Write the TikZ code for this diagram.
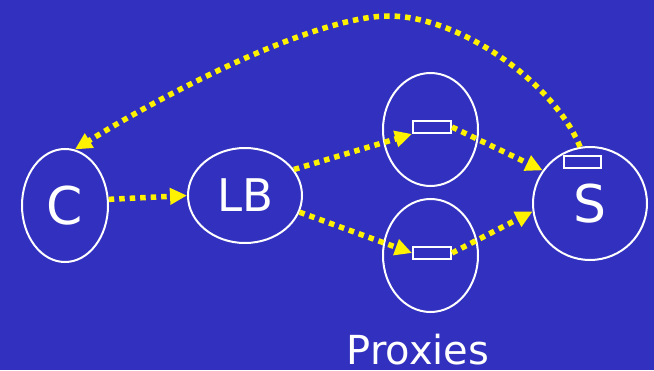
\documentclass[tikz,border=0pt]{standalone}
\usepackage{fontspec}
\setmainfont{DejaVu Sans}
\usetikzlibrary{arrows.meta,positioning,shapes.geometric}
\definecolor{slide}{RGB}{50,48,190}

\begin{document}
\begin{tikzpicture}[
  x=1pt,y=1pt,
  font=\fontsize{45}{50}\selectfont,
  host/.style={draw=white,ellipse,line width=2pt,inner sep=0pt,text=white},
  big/.style={font=\fontsize{52}{56}\selectfont},
  buf/.style={draw=white,line width=2pt,minimum width=38pt,minimum height=12pt,inner sep=0pt},
  hop/.style={draw=yellow,line width=5.5pt,dash pattern=on 5.5pt off 5pt,
              -{Triangle[length=17pt,width=16pt]}},
  lbl/.style={text=white,inner sep=0pt,font=\fontsize{40}{44}\selectfont},
]
\useasboundingbox (0,0) rectangle (654,370);
\fill[slide] (0,0) rectangle (654,370);

% client, balancer and server
\node[host,big,minimum width=86pt,minimum height=113pt] (c) at (65,164.5) {C};
\node[host,minimum width=114pt,minimum height=95pt] (lb) at (245,174.5) {LB};
\node[host,big,minimum width=114pt,minimum height=113pt] (s) at (590,166.5) {S};

% the two proxies
\node[host,minimum width=95pt,minimum height=113pt] (p1) at (430.5,240.5) {};
\node[host,minimum width=95pt,minimum height=113pt] (p2) at (430.5,114.5) {};
\node[lbl,anchor=base] (plbl) at (418,6) {Proxies};

% buffers
\node[buf] (b1) at (432,243) {};
\node[buf] (b2) at (432,117) {};
\node[buf,minimum width=37pt] (bs) at (582.5,208) {};

% request path
\draw[hop] (c.8) -- (lb.west);
\draw[hop] (lb.28) -- (b1.south west);
\draw[hop] (lb.-17) -- (b2.west);
\draw[hop] (b1.east) -- (s.145);
\draw[hop] (b2.east) -- (s.188);

% reply goes straight back
\coordinate (top) at (389,354);
\draw[hop] (s.100) .. controls +(-25,63) and +(71,0) .. (top)
                   .. controls +(-69,0) and +(105,65) .. (c.80);
\end{tikzpicture}
\end{document}
